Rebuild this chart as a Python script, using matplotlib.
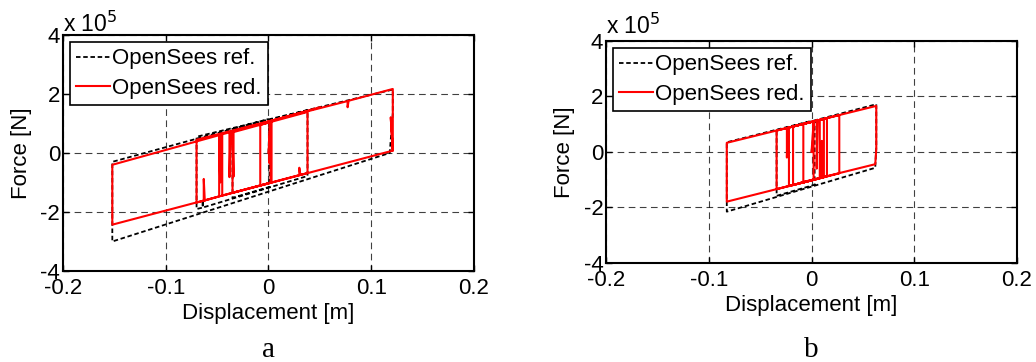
import matplotlib
matplotlib.use("Agg")
import matplotlib.pyplot as plt

plt.rcParams['font.family'] = ['Liberation Sans', 'DejaVu Sans']

# forces are in units of 1e5 N (shown with the "x 10^5" multiplier)
# panel a
ref_a_d = [0.000, 0.001, 0.001, -0.035, -0.035, 0.038, 0.038, -0.064, -0.064, -0.064,
           -0.070, -0.070, 0.121, 0.121, 0.118, -0.152, -0.152, 0.000]
ref_a_f = [0.00, 1.15, -1.15, -1.52, 0.78, 1.45, -0.78, -1.85, -1.60, -1.85,
           -1.90, 0.55, 2.15, 1.35, 0.00, -3.00, -0.30, 1.15]

red_a_d = [0.000, 0.002, 0.002, -0.008, -0.008, 0.001, 0.001, 0.002, 0.003, 0.003,
           -0.035, -0.035, -0.034, -0.034, -0.038, -0.038, -0.037, 0.038, 0.038, 0.030,
           0.030, 0.031, -0.045, -0.045, -0.047, -0.047, -0.048, -0.048, -0.048, -0.063,
           -0.063, -0.062, -0.070, -0.070, 0.077, 0.077, 0.078, 0.121, 0.121, 0.119,
           0.121, -0.152, -0.152, -0.152, 0.050]
red_a_f = [0.00, 1.05, -1.01, -1.10, 0.95, 1.04, -0.35, 1.05, 1.07, -1.00,
           -1.35, 0.70, -0.80, 0.71, 0.67, -0.82, 0.68, 1.39, -0.68, -0.75,
           -0.50, -0.74, -1.44, 0.60, 0.58, -1.00, 0.58, -0.30, -1.47, -1.62,
           -0.88, -1.61, -1.68, 0.45, 1.76, 1.55, 1.77, 2.17, 0.08, 1.20,
           0.08, -2.43, -0.90, -0.40, 1.55]

# panel b
ref_b_d = [0.000, 0.003, 0.003, -0.034, -0.034, 0.063, 0.063, 0.062, -0.0825, -0.0825,
           0.000]
ref_b_f = [0.00, 1.12, -1.18, -1.58, 0.78, 1.72, 0.20, -0.57, -2.15, 0.35,
           1.12]

red_b_d = [0.000, 0.002, 0.002, -0.008, -0.008, 0.008, 0.008, -0.018, -0.018, 0.012,
           0.012, -0.022, -0.022, -0.024, -0.024, -0.023, 0.005, 0.005, 0.006, 0.015,
           0.015, 0.010, 0.010, 0.011, -0.034, -0.034, 0.027, 0.027, -0.0825, -0.0825,
           -0.0825, 0.063, 0.063, 0.062, -0.010]
red_b_f = [0.00, 1.10, -1.00, -1.10, 1.01, 1.16, -0.95, -1.19, 0.92, 1.19,
           -0.91, -1.23, 0.88, 0.86, -0.20, 0.87, 1.13, -0.60, 1.14, 1.22,
           -0.88, -0.92, 0.40, -0.91, -1.34, 0.77, 1.33, -0.77, -1.79, -0.80,
           0.33, 1.66, 0.10, -0.44, -1.10]

xticks = [-0.2, -0.1, 0, 0.1, 0.2]
xtick_labels = ['-0.2', '-0.1', '0', '0.1', '0.2']
yticks = [-4, -2, 0, 2, 4]
ytick_labels = ['-4', '-2', '0', '2', '4']

fig = plt.figure(figsize=(10.36, 3.62), dpi=100)
ax_a = fig.add_axes([0.0608, 0.2514, 0.3967, 0.652])
ax_b = fig.add_axes([0.585, 0.2735, 0.3967, 0.6133])

panels = [
    (ax_a, ref_a_d, ref_a_f, red_a_d, red_a_f, 'a', 0.9124),
    (ax_b, ref_b_d, ref_b_f, red_b_d, red_b_f, 'b', 0.9075),
]

for ax, rd, rf, sd, sf, tag, ytop in panels:
    ax.plot(rd, rf, color='black', lw=1.3, ls=(0, (2.5, 1.5)), label='OpenSees ref.')
    ax.plot(sd, sf, color='#ff0000', lw=1.5, label='OpenSees red.')
    ax.set_xlim(-0.2, 0.2)
    ax.set_ylim(-4, 4)
    ax.set_xticks(xticks)
    ax.set_xticklabels(xtick_labels)
    ax.set_yticks(yticks)
    ax.set_yticklabels(ytick_labels)
    ax.tick_params(direction='in', length=4, labelsize=16, top=True, right=True, width=1)
    ax.tick_params(axis='x', pad=5)
    ax.tick_params(axis='y', pad=2)
    ax.grid(True, color='black', lw=0.8, ls=(0, (6, 4)), alpha=0.75)
    for s in ax.spines.values():
        s.set_linewidth(1.5)
    ax.set_xlabel('Displacement [m]', fontsize=16, labelpad=3)
    ax.set_ylabel('Force [N]', fontsize=16, labelpad=6)
    x0 = ax.get_position().x0
    fig.text(x0, ytop, 'x 10$^5$', fontsize=16.5, ha='left', va='baseline')
    leg = ax.legend(loc='upper left', fontsize=16, frameon=True, fancybox=False,
                    framealpha=1, edgecolor='black', handlelength=1.5,
                    handletextpad=0.1, borderpad=0.3, labelspacing=0.38,
                    borderaxespad=0.3)
    leg.get_frame().set_linewidth(1.2)
    cx = ax.get_position().x0 + 0.5 * ax.get_position().width
    fig.text(cx, 0.0138, tag, fontsize=21, ha='center', va='baseline',
             family='Liberation Serif')

fig.savefig('out.png', dpi=100)
